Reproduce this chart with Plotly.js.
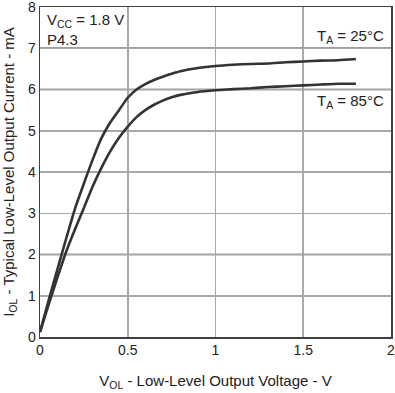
<!DOCTYPE html>
<html>
<head>
<meta charset="utf-8">
<script src="https://cdn.plot.ly/plotly-3.0.1.min.js"></script>
<style>html,body{margin:0;padding:0;background:#fff;}#chart{width:395px;height:393px;}</style>
</head>
<body>
<div id="chart"></div>
<script>
// Low-level output voltage (V) and current (mA)
const vol25 = [0, 0.05, 0.1, 0.15, 0.2, 0.25, 0.3, 0.35, 0.4, 0.45, 0.5, 0.55, 0.6, 0.65, 0.7, 0.75, 0.8, 0.9, 1.0, 1.1, 1.2, 1.3, 1.4, 1.5, 1.6, 1.7, 1.8];
const iol25 = [0.12, 0.9, 1.65, 2.4, 3.12, 3.72, 4.3, 4.82, 5.2, 5.5, 5.8, 6.0, 6.13, 6.23, 6.31, 6.38, 6.44, 6.52, 6.57, 6.6, 6.62, 6.63, 6.66, 6.68, 6.7, 6.71, 6.74];
const vol85 = [0, 0.05, 0.1, 0.15, 0.2, 0.25, 0.3, 0.35, 0.4, 0.45, 0.5, 0.55, 0.6, 0.65, 0.7, 0.75, 0.8, 0.9, 1.0, 1.1, 1.2, 1.3, 1.4, 1.5, 1.6, 1.7, 1.8];
const iol85 = [0.12, 0.8, 1.45, 2.08, 2.62, 3.13, 3.65, 4.1, 4.5, 4.83, 5.1, 5.33, 5.5, 5.63, 5.73, 5.81, 5.87, 5.94, 5.98, 6.01, 6.03, 6.06, 6.08, 6.1, 6.12, 6.14, 6.14];

const xTicks = [0, 0.5, 1, 1.5, 2];
const xTickLabels = ['0', '0.5', '1', '1.5', '2'];
const yTicks = [0, 1, 2, 3, 4, 5, 6, 7, 8];
const yTickLabels = ['0', '1', '2', '3', '4', '5', '6', '7', '8'];
const darkGridX = [1.5];
const darkGridY = [2, 4, 6, 7];

const lineColor = '#333333';
const font = {family: 'Liberation Sans, Arial, sans-serif', size: 14, color: '#222'};

const traces = [
  {x: vol25, y: iol25, mode: 'lines', line: {color: lineColor, width: 2.6, shape: 'spline', smoothing: 0.5}, name: 'TA = 25°C', hoverinfo: 'skip'},
  {x: vol85, y: iol85, mode: 'lines', line: {color: lineColor, width: 2.6, shape: 'spline', smoothing: 0.5}, name: 'TA = 85°C', hoverinfo: 'skip'}
];

const shapes = [];
darkGridX.forEach(v => shapes.push({type: 'line', xref: 'x', yref: 'paper', x0: v, x1: v, y0: 0, y1: 1, line: {color: '#404040', width: 1.3}, layer: 'below'}));
darkGridY.forEach(v => shapes.push({type: 'line', xref: 'paper', yref: 'y', x0: 0, x1: 1, y0: v, y1: v, line: {color: '#404040', width: 1.3}, layer: 'below'}));

const layout = {
  width: 395, height: 393,
  margin: {l: 40, r: 4, t: 7, b: 56},
  paper_bgcolor: '#fff', plot_bgcolor: '#fff',
  showlegend: false,
  font: font,
  xaxis: {
    range: [0, 2], tickvals: xTicks, ticktext: xTickLabels,
    showgrid: true, gridcolor: '#a8a8a8', gridwidth: 1.5,
    showline: true, linecolor: '#404040', linewidth: 1.5, mirror: true,
    ticks: '', zeroline: false, tickfont: {size: 14}, ticklabeloverflow: 'allow',
    title: {text: 'V<sub>OL</sub> - Low-Level Output Voltage - V', font: {size: 15}, standoff: 18}
  },
  yaxis: {
    range: [0, 8], tickvals: yTicks, ticktext: yTickLabels,
    showgrid: true, gridcolor: '#a8a8a8', gridwidth: 1.5,
    showline: true, linecolor: '#404040', linewidth: 1.5, mirror: true,
    ticks: '', zeroline: false, tickfont: {size: 14}, ticklabeloverflow: 'allow',
    title: {text: 'I<sub>OL</sub> - Typical Low-Level Output Current - mA', font: {size: 15}, standoff: 12}
  },
  shapes: shapes,
  annotations: [
    {xref: 'paper', yref: 'paper', x: 0.015, y: 0.995, xanchor: 'left', yanchor: 'top', showarrow: false, align: 'left',
     text: 'V<sub>CC</sub> = 1.8 V<br>P4.3', font: {size: 15}},
    {xref: 'paper', yref: 'y', x: 0.985, y: 7.0, xanchor: 'right', yanchor: 'bottom', showarrow: false,
     text: 'T<sub>A</sub> = 25°C', font: {size: 15}},
    {xref: 'paper', yref: 'y', x: 0.985, y: 6.0, xanchor: 'right', yanchor: 'top', showarrow: false,
     text: 'T<sub>A</sub> = 85°C', font: {size: 15}}
  ]
};

Plotly.newPlot('chart', traces, layout, {staticPlot: true, displayModeBar: false});
</script>
</body>
</html>
